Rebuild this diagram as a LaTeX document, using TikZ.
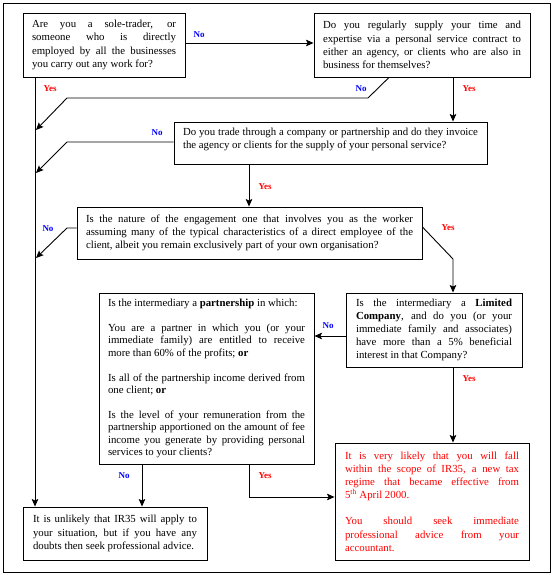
\documentclass[tikz,border=0pt]{standalone}
\usepackage{fontspec}
\setmainfont{Liberation Serif}
\usetikzlibrary{arrows.meta}
\definecolor{noblue}{HTML}{0000FF}
\definecolor{yesred}{HTML}{FF0000}
\newcommand\boxfont{\fontsize{10.8}{13.2}\selectfont\sloppy\hyphenpenalty=10000 }
\newcommand\partfont{\fontsize{10.8}{12.4}\selectfont\sloppy\hyphenpenalty=10000 }
\newcommand\tagfont{\fontsize{9}{10}\selectfont\bfseries}

\begin{document}
\begin{tikzpicture}[x=1pt,y=-1pt,
  qbox/.style={draw,line width=0.9pt,inner xsep=9pt,align=justify,font=\boxfont},
  notag/.style={text=noblue,font=\tagfont,inner sep=0pt},
  yestag/.style={text=yesred,font=\tagfont,inner sep=0pt},
  flow/.style={line width=0.9pt,-{Stealth[length=7.5pt,width=6.5pt,inset=1.5pt]}}]
  \useasboundingbox (0,0) rectangle (553,575);
  \draw[line width=0.9pt] (3,3) rectangle (550,572);

  % Questions.
  \node[qbox,text width=144pt,minimum height=64pt] (q1) at (104,45)
    {Are you a sole-trader, or\linebreak someone who is directly\linebreak
     employed by all the businesses\linebreak you carry out any work for?};
  \node[qbox,text width=198pt,minimum height=64pt] (q2) at (422,45)
    {Do you regularly supply your time and\linebreak expertise via a personal
     service contract to\linebreak either an agency, or clients who are also
     in\linebreak business for themselves?};
  \node[qbox,text width=295pt,minimum height=42pt,text depth=23pt] (q3)
    at (330.5,143)
    {Do you trade through a company or partnership and do they
     invoice\linebreak the agency or clients for the supply of your personal
     service?};
  \node[qbox,text width=327pt,minimum height=52pt] (q4) at (249.5,233)
    {Is the nature of the engagement one that involves you as the
     worker\linebreak assuming many of the typical characteristics of a direct
     employee of the\linebreak client, albeit you remain exclusively part of
     your own organisation?};
  \node[qbox,text width=156pt,inner xsep=10pt,minimum height=74pt] (ltd)
    at (434,330)
    {Is the intermediary a \textbf{Limited}\linebreak \textbf{Company}, and do
     you (or your\linebreak immediate family and associates)\linebreak have
     more than a 5\% beneficial\linebreak interest in that Company?};
  \node[qbox,text width=197pt,minimum height=171pt,font=\partfont] (part)
    at (206.5,378.5)
    {Is the intermediary a \textbf{partnership} in which:\par\vspace{12.4pt}
     You are a partner in which you (or your\linebreak immediate family) are
     entitled to receive\linebreak more than 60\% of the profits;
     \textbf{or}\par\vspace{12.4pt}
     Is all of the partnership income derived from\linebreak one client;
     \textbf{or}\par\vspace{12.4pt}
     Is the level of your remuneration from the\linebreak partnership
     apportioned on the amount of fee\linebreak income you generate by
     providing personal\linebreak services to your clients?};

  % Outcomes.
  \node[qbox,text width=164pt,inner xsep=10pt,minimum height=53pt] (unl)
    at (115,533.5)
    {It is unlikely that IR35 will apply to\linebreak your situation, but if
     you have any\linebreak doubts then seek professional advice.};
  \node[qbox,text width=174pt,inner xsep=10pt,minimum height=117pt,
        text=yesred] (likely) at (432,501.5)
    {It is very likely that you will fall\linebreak within the scope of IR35,
     a new tax\linebreak regime that became effective from\linebreak
     5\textsuperscript{th} April 2000.\par\vspace{13pt}
     You should seek immediate\linebreak professional advice from
     your\linebreak accountant.};

  % Bends and the left spine.
  \coordinate (spine) at (35,0);
  \coordinate (b2a) at (368,98);
  \coordinate (b2b) at (67,98);
  \coordinate (s2) at (36,130);
  \coordinate (b3) at (67,142);
  \coordinate (s3) at (36,173);
  \coordinate (b4) at (67,228);
  \coordinate (s4) at (36,258);
  \coordinate (b5) at (453,259);
  \coordinate (b6) at (249,497);

  \draw[flow] (q1.east |- 0,43) -- (q2.west |- 0,43);
  \draw[flow] (q1.south -| spine) -- (unl.north -| spine);
  \draw[flow] (q2.south -| 389,0) -- (b2a) -- (b2b) -- (s2);
  \draw[flow] (q2.south -| b5) -- (q3.north -| b5);
  \draw[flow] (q3.west |- b3) -- (b3) -- (s3);
  \draw[flow] (q3.south -| b6) -- (q4.north -| b6);
  \draw[flow] (q4.west |- b4) -- (b4) -- (s4);
  \draw[flow] (q4.east |- 0,227) -- (b5) -- (ltd.north -| b5);
  \draw[flow] (ltd.west |- 0,336) -- (part.east |- 0,336);
  \draw[flow] (ltd.south -| b5) -- (likely.north -| b5);
  \draw[flow] (part.south -| 142,0) -- (unl.north -| 142,0);
  \draw[flow] (part.south -| b6) -- (b6) -- (likely.west |- b6);

  % Answer tags.
  \node[notag] (no1) at (199,35) {No};
  \node[yestag] (yes1) at (50,89) {Yes};
  \node[notag] (no2) at (361,89) {No};
  \node[yestag] (yes2) at (469,89) {Yes};
  \node[notag] (no3) at (157,133) {No};
  \node[yestag] (yes3) at (265,187) {Yes};
  \node[notag] (no4) at (48,229) {No};
  \node[yestag] (yes4) at (448,228) {Yes};
  \node[notag] (no5) at (328,326) {No};
  \node[yestag] (yes5) at (469,379) {Yes};
  \node[notag] (no6) at (124,476) {No};
  \node[yestag] (yes6) at (265,476) {Yes};
\end{tikzpicture}
\end{document}
